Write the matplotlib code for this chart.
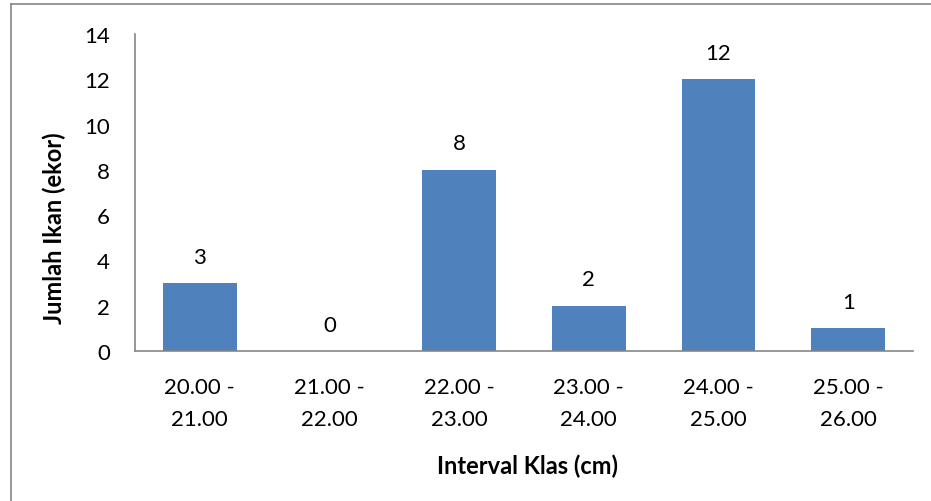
import numpy as np
import matplotlib.pyplot as plt
from matplotlib.lines import Line2D

# data
kelas = ['20.00 -\n21.00', '21.00 -\n22.00', '22.00 -\n23.00',
         '23.00 -\n24.00', '24.00 -\n25.00', '25.00 -\n26.00']
jumlah = [3, 0, 8, 2, 12, 1]
y_ticks = [0, 2, 4, 6, 8, 10, 12, 14]

plt.rcParams['font.family'] = ['Lato', 'DejaVu Sans']

fig = plt.figure(figsize=(9.31, 5.02), dpi=100)
W, H = 931, 502
ax = fig.add_axes([135 / W, 1 - 352 / H, (913 - 135) / W, (352 - 35) / H])

x = np.arange(len(kelas))
ax.bar(x, jumlah, width=0.57, color='#4f81bd', zorder=2)

for xi, v in zip(x, jumlah):
    ax.annotate(str(v), (xi, v), xytext=(0, 19), textcoords='offset points',
                ha='center', va='center', fontsize=16, color='black')

ax.set_xlim(-0.5, len(kelas) - 0.5)
ax.set_ylim(0, 14)
ax.set_yticks(y_ticks)
ax.set_xticks(x)
ax.set_xticklabels(kelas, fontsize=16, linespacing=1.75)
ax.tick_params(axis='y', labelsize=16, length=0, pad=18)
ax.tick_params(axis='x', length=0, pad=19)

for s in ['top', 'right']:
    ax.spines[s].set_visible(False)
for s in ['left', 'bottom']:
    ax.spines[s].set_color('#868686')
    ax.spines[s].set_linewidth(1.2)

ax.set_ylabel('Jumlah Ikan (ekor)', fontsize=17, fontweight='bold')
ax.set_xlabel('Interval Klas (cm)', fontsize=17, fontweight='bold')
ax.yaxis.set_label_coords(-0.088, 0.39)
ax.xaxis.set_label_coords(0.504, -0.322)

# outer chart border (only left and top visible in the crop)
fig.add_artist(Line2D([10.5 / W, 10.5 / W], [0, 1 - 5 / H], transform=fig.transFigure,
                      color='#868686', linewidth=1.2))
fig.add_artist(Line2D([10.5 / W, 1], [1 - 5 / H, 1 - 5 / H], transform=fig.transFigure,
                      color='#868686', linewidth=1.2))

fig.savefig('out.png', dpi=100)
